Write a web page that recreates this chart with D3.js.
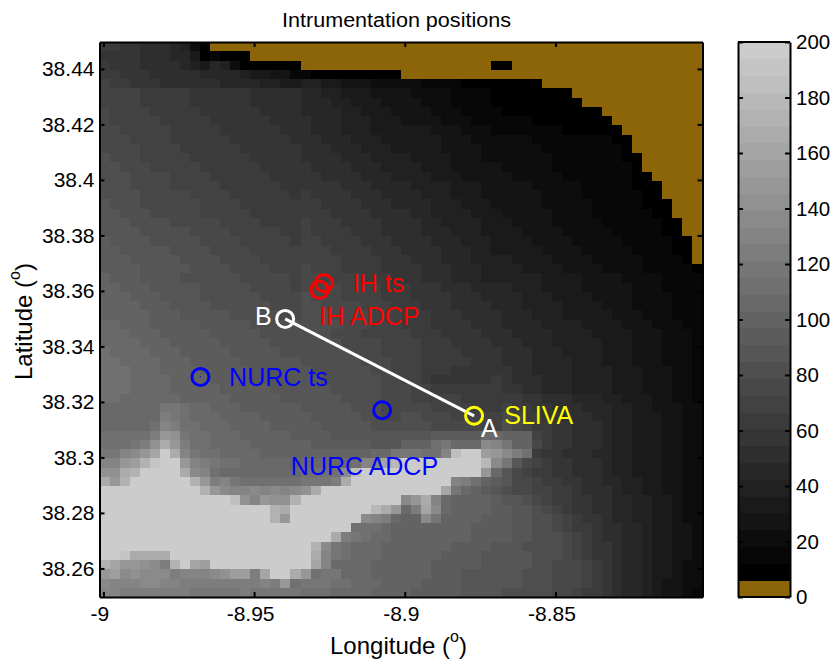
<!DOCTYPE html>
<html>
<head>
<meta charset="utf-8">
<script src="https://cdn.jsdelivr.net/npm/d3@7"></script>
<style>
body { margin: 0; background: #fff; }
text { font-family: "Liberation Sans", Arial, sans-serif; }
</style>
</head>
<body>
<script>
// depth grid, one char per cell: 0 is land/brown band, 1-9 a-w are the grey bands
// spaces are only there to make the rows countable, every 10 cols
var depthRows = [
"aa99888763 1000000000 0000000000 0000000000 0000000000 0000000000",
"9999888775 1211100000 0000000000 0000000000 0000000000 0000000000",
"a999888876 5763111111 0000000000 0000000001 1000000000 0000000000",
"aa99988888 7777655442 2111111111 0000000000 0000000000 0000000000",
"baa9998888 8877776655 6655444333 3322221111 1111000000 0000000000",
"bbbbaaaaa9 9999988888 7766555444 4333322221 1111111000 0000000000",
"bbbbaaaaa9 9999988888 7776655544 4433322221 1111111100 0000000000",
"cbbbbaaaaa 9999998888 7777665554 4443332222 1111111111 0000000000",
"cbbbbbaaaa a999999888 8777666555 4444333222 2221111111 1000000000",
"ccbbbbbaaa aa99999988 8777666555 5554443332 2222221111 1100000000",
"cccbbbbaaa aaa9999998 8877766655 5555444333 3332222222 2110000000",
"ccccbbbbaa aaaa999999 8887776665 5555444433 3333222222 2210000000",
"dcccbbbbba aaaaa99999 8888777666 6555544433 3333322222 2211000000",
"ddcccbbbbb aaaaaa9999 9888877766 6655544444 3333322222 2221000000",
"dddccccbbb baaaaaa999 9988887776 6665554444 4333332222 2221100000",
"dddccccbbb bbaaaaaa99 9999888777 7666655544 4443333322 2221110000",
"ddddcccccb bbbaaaaaa9 a999988877 7766655544 4444333322 2222110000",
"edddcccccc bbbbaaaaaa aa99998887 7776665554 4444333332 2222111000",
"eedddccccc bbbbbaaaaa aaa9999888 8776666555 4444433332 2222211000",
"eeeddddccc ccbbbbaaaa baaa999988 8877666655 5444433333 2222221100",
"eeeedddddc cccbbbbbaa baaaa99988 8877766655 5544443333 3222221100",
"feeeeddddd ccccbbbbba bbaaaa9998 8887776665 5554444333 3322222110",
"ffeeeeeddd dccccbbbbb bbbaaaa999 8888777665 5555444433 3332222110",
"fffeeeeedd ddccccbbbb bbbbaaaa99 9888777666 6555544443 3333222210",
"ffffeeeeed dddccccbbb cbbbaaaa99 9988877766 6655554444 3333222221",
"gfffeeeedd ddddcccccb ccbbbbaaa9 9988877766 6666555544 4433332222",
"ggfffeeeee dddddccccb ccccbbbbaa a999888777 7666555544 4443332222",
"gggfffeeee ddddddcccc dcccbbbbaa a999988877 7766655554 4443333222",
"ggggfffeee eddddddccc ddccccbbba aa99988887 7766665555 4443333222",
"gggggfffee eeedddddcc dddccccbbb aaa9998888 7776665555 5444333222",
"hhgggfffff eeeeeddddd ddddcccbbb aaa9999888 7777666655 5544433322",
"hhhgggffff feeeeedddd dddcccbbbb baaa999988 8777766665 5554443332",
"hhhhgggfff ffeeeeeddd ddddccccbb bbaaa99998 8877766666 5554443332",
"ihhhhgggff fffeeeeedd dddddcccbb bbaaaa9999 8887776666 5554443332",
"iihhhhgggf ffffeeeeee ddddddcccb bbaaaaa999 8887777666 5554443332",
"iiihhhgggg fffffeeeee eddddddccb bbaaa99999 9887777666 6555444332",
"iiihhhhggg gffffeeeee eeddddddcc bba999999a 9888777666 6555444332",
"iiihhhhggg ggfffffeee eeedddddcc cbbaaaaaaa 9988777666 6555444332",
"iihhhhhhgg gggfffffee eeeeddddcc cbbbbbaaaa aa99888777 6655544332",
"hhhhhhjjih hgggffffff eeeeedddcc cccbbbbaaa baa9988877 7665544433",
"hhhhhhkjih hhggggffff feeeeeddcc ddcccbbbbb cbaa998887 7665554433",
"hhhhhilkii hhhggggfff ffeeeeeddd dddcccccbb dcbaa99888 7665554433",
"iiiiikonji ihhhgggggf fffeeeeeee eeefffffhh gggba99888 7665554433",
"iiijknroki ihhhhggggg gffffffeee gggijhhhml jggca99888 7665554433",
"jjlmoqwrlj iihhhhgggg ggggggghhj jjiiluwwpo mkia998887 7665554433",
"llopsvwwol kjiihhhhhg hhhhhillqt wwwwwwwwtm jecba99888 7665554433",
"nnrswwwwrm lihhhhhhhh iiiimuwwww wwwwwwwwoh ecbaa99888 7665554433",
"roswwwwwws okljiiiiii jjjkrwwwww wwwwwlkigf eccbaa9988 7766554433",
"wwwwwwwwww somllmlmlm nrwwwwwwww wwwwqjhgfe dccbbaa988 8766554433",
"wwwwwwwwww wwwunlonns wwwwwwwwww morlhggggf eedcbaa998 8776655433",
"wwwwwwwwww wwwwwwwsrw wwwwwwwtro hkqmhggggf feedcba998 8776655433",
"wwwwwwwwww wwwwwwwsow wwwwwwmlkh ggmjggggff feeddcba99 8776655433",
"wwwwwwwwww wwwwwwwwww wwwwwiiihg gggggggfff feeddcbaa9 8877655443",
"wwwwwwwwww wwwwwwwwww wwwrkjihhg gggggggfff feedddcba9 8877655443",
"wwwwwwwwww wwwwwwwwww wsmjihhhgg gggggffffe eeddddcba9 9877655443",
"wwvrrrrwww wwwwwwwwww wrljihhhgg ggggffffee eeedddcba9 9877655443",
"sqoonmkswq pwwwwwwwww wqlhhhhggg gggfffffee eeeddcccba 9877655433",
"opmnmmmkll lmnppkqwwr oijjhhhggg gggfffeeee eedddcccba 9877655433",
"mlllmmllkk kkkkkklkoi jjjiihhhgg ggffffeeee eedddcccba 9877654433",
"llkkkkkkkj jjjjkjjjjj iiihhhhggg gfffffeeee dddddccbaa 9877654432"
];

var lonTicks = [-9, -8.95, -8.9, -8.85];
var latTicks = [38.26, 38.28, 38.3, 38.32, 38.34, 38.36, 38.38, 38.4, 38.42, 38.44];
var barTicks = [0, 20, 40, 60, 80, 100, 120, 140, 160, 180, 200];

// instruments, lon / lat
var sitesLon = [-8.9268, -8.9283, -8.9678, -8.9075, -8.877];
var sitesLat = [38.3628, 38.3604, 38.329, 38.317, 38.315];
var sitesColor = ['#ff0000', '#ff0000', '#0000ff', '#0000ff', '#ffff00'];

var sectionLon = [-8.877, -8.9397];
var sectionLat = [38.315, 38.3499];

var labelText = ['IH ts', 'IH ADCP', 'NURC ts', 'NURC ADCP', 'SLIVA', 'B', 'A'];
var labelLon = [-8.9172, -8.9283, -8.9583, -8.9378, -8.867, -8.9497, -8.8747];
var labelLat = [38.3596, 38.3477, 38.3259, 38.2937, 38.312, 38.3477, 38.3072];
var labelColor = ['#ff0000', '#ff0000', '#0000ff', '#0000ff', '#ffff00', '#ffffff', '#ffffff'];

var LAND = '#8b6508';
var nLevels = 33;

var width = 835, height = 661;
var left = 99.5, right = 702.5, top_ = 42, bottom = 597;
var barLeft = 738, barRight = 790;

var svg = d3.select('body').append('svg')
    .attr('width', width)
    .attr('height', height)
    .style('display', 'block');

// scales
var xScale = d3.scaleLinear().domain([-9.0013, -8.8012]).range([left, right]);
var yScale = d3.scaleLinear().domain([38.2497, 38.4497]).range([bottom, top_]);
var colBand = d3.scaleBand().domain(d3.range(60)).range([left, right]);
var rowBand = d3.scaleBand().domain(d3.range(60)).range([top_, bottom]);
var barScale = d3.scaleLinear().domain([0, 200]).range([bottom, top_]);

var palette = [LAND].concat(d3.range(nLevels - 1).map(function(i){
    var g = Math.round(i / (nLevels - 2) * 204);
    return d3.rgb(g, g, g).formatHex();
}));
var colorScale = d3.scaleQuantize().domain([0, 200]).range(palette);

function codeToDepth(ch){
    return (parseInt(ch, 36) + 0.5) * 200 / nLevels;
}

// grid cells
var cells = [];
depthRows.forEach(function(row, r){
    row.replace(/ /g, '').split('').forEach(function(ch, c){
        cells.push({r: r, c: c, depth: codeToDepth(ch)});
    });
});

svg.append('g').selectAll('rect').data(cells).enter().append('rect')
    .attr('x', d => colBand(d.c))
    .attr('y', d => rowBand(d.r))
    .attr('width', colBand.bandwidth() + 0.5)
    .attr('height', rowBand.bandwidth() + 0.5)
    .attr('fill', d => colorScale(d.depth))
    .attr('shape-rendering', 'crispEdges');

// colorbar bands
var bands = d3.range(nLevels).map(function(i){ return (i + 0.5) * 200 / nLevels; });
svg.append('g').selectAll('rect').data(bands).enter().append('rect')
    .attr('x', barLeft)
    .attr('width', barRight - barLeft)
    .attr('y', d => barScale(d + 100 / nLevels))
    .attr('height', barScale(0) - barScale(200 / nLevels) + 0.5)
    .attr('fill', d => colorScale(d))
    .attr('shape-rendering', 'crispEdges');

// section line A-B
var line = d3.line().x((d, i) => xScale(sectionLon[i])).y((d, i) => yScale(sectionLat[i]));
svg.append('path')
    .attr('d', line(sectionLon))
    .attr('fill', 'none')
    .attr('stroke', '#fff')
    .attr('stroke-width', 3);

// instrument circles
svg.append('g').selectAll('circle').data(sitesLon).enter().append('circle')
    .attr('cx', d => xScale(d))
    .attr('cy', (d, i) => yScale(sitesLat[i]))
    .attr('r', 8.5)
    .attr('fill', 'none')
    .attr('stroke', (d, i) => sitesColor[i])
    .attr('stroke-width', 3);

// tiny centre dots of the plot markers
svg.append('g').selectAll('circle').data(sitesLon.slice(0, 4)).enter().append('circle')
    .attr('cx', d => xScale(d))
    .attr('cy', (d, i) => yScale(sitesLat[i]))
    .attr('r', 0.6)
    .attr('fill', (d, i) => sitesColor[i]);

// B end circle is white
svg.append('circle')
    .attr('cx', xScale(sectionLon[1]))
    .attr('cy', yScale(sectionLat[1]))
    .attr('r', 8.5)
    .attr('fill', 'none')
    .attr('stroke', '#fff')
    .attr('stroke-width', 3);

svg.append('g').selectAll('text').data(labelText).enter().append('text')
    .attr('x', (d, i) => xScale(labelLon[i]))
    .attr('y', (d, i) => yScale(labelLat[i]))
    .attr('fill', (d, i) => labelColor[i])
    .attr('font-size', 25)
    .text(d => d);

// axes with the ticks pointing inwards on all four sides
function styleAxis(g, fontSize){
    g.selectAll('path').attr('stroke', '#000').attr('stroke-width', 2);
    g.selectAll('line').attr('stroke', '#000').attr('stroke-width', 2);
    g.selectAll('text').attr('fill', '#000').style('font-size', (fontSize || 21) + 'px');
}

svg.append('g').attr('transform', 'translate(0,' + bottom + ')')
    .call(d3.axisBottom(xScale).tickValues(lonTicks).tickSize(-5).tickSizeOuter(0).tickPadding(9).tickFormat(d => String(d)))
    .call(styleAxis)
    .selectAll('text').attr('dx', -4);
svg.append('g').attr('transform', 'translate(0,' + top_ + ')')
    .call(d3.axisTop(xScale).tickValues(lonTicks).tickSize(-5).tickSizeOuter(0).tickFormat(''))
    .call(styleAxis);
svg.append('g').attr('transform', 'translate(' + left + ',0)')
    .call(d3.axisLeft(yScale).tickValues(latTicks).tickSize(-5).tickSizeOuter(0).tickPadding(5).tickFormat(d => String(d)))
    .call(styleAxis);
svg.append('g').attr('transform', 'translate(' + right + ',0)')
    .call(d3.axisRight(yScale).tickValues(latTicks).tickSize(-5).tickSizeOuter(0).tickFormat(''))
    .call(styleAxis);

// colorbar frame
svg.append('g').attr('transform', 'translate(' + barRight + ',0)')
    .call(d3.axisRight(barScale).tickValues(barTicks).tickSize(-5).tickSizeOuter(0).tickPadding(6).tickFormat(d => String(d)))
    .call(styleAxis, 20.5);
svg.append('g').attr('transform', 'translate(' + barLeft + ',0)')
    .call(d3.axisLeft(barScale).tickValues(barTicks).tickSize(-5).tickSizeOuter(0).tickFormat(''))
    .call(styleAxis);
svg.append('path')
    .attr('d', 'M' + barLeft + ',' + top_ + 'H' + barRight + 'M' + barLeft + ',' + bottom + 'H' + barRight)
    .attr('stroke', '#000').attr('stroke-width', 2);

// title and axis labels
svg.append('text')
    .attr('x', 282).attr('y', 26.5)
    .attr('font-size', 20)
    .attr('textLength', 229)
    .attr('lengthAdjust', 'spacingAndGlyphs')
    .text('Intrumentation positions');

var xLabel = svg.append('text')
    .attr('x', 330).attr('y', 654)
    .attr('font-size', 24);
xLabel.append('tspan').text('Longitude (');
xLabel.append('tspan').attr('dy', -12).attr('font-size', 16).text('o');
xLabel.append('tspan').attr('dy', 12).text(')');

var yLabel = svg.append('text')
    .attr('transform', 'translate(32,380) rotate(-90)')
    .attr('font-size', 24);
yLabel.append('tspan').text('Latitude (');
yLabel.append('tspan').attr('dy', -12).attr('font-size', 16).text('o');
yLabel.append('tspan').attr('dy', 12).text(')');
</script>
</body>
</html>
